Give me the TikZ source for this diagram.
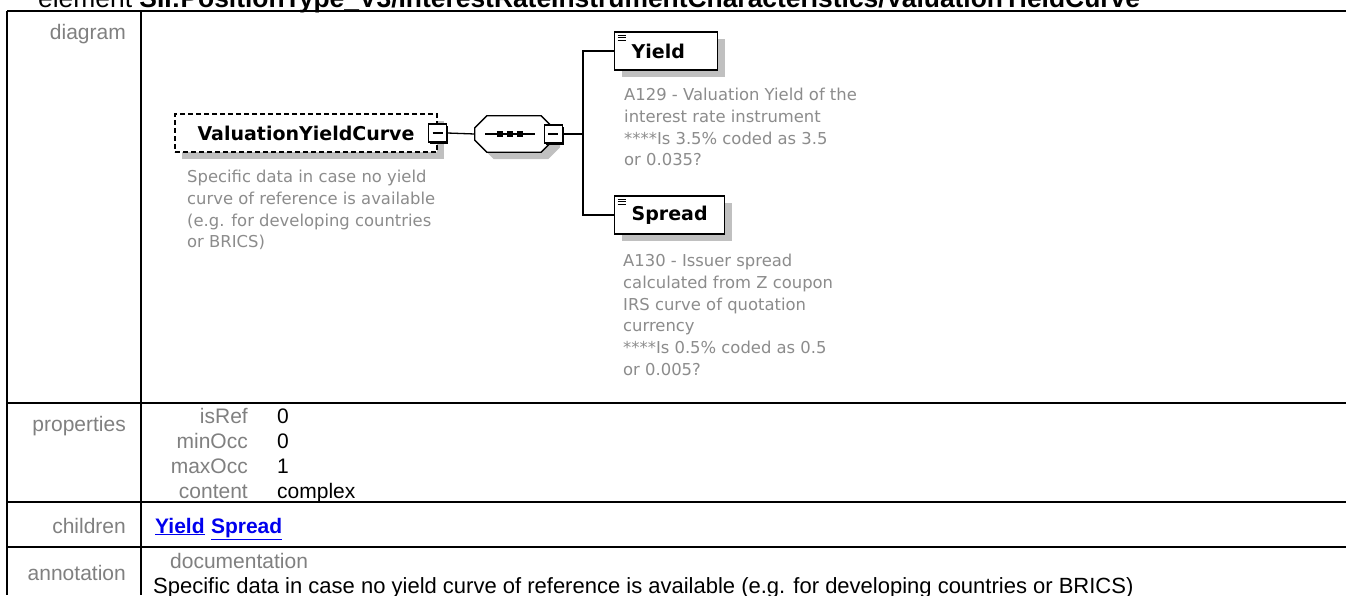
\documentclass[tikz,border=0pt]{standalone}
\usepackage{fontspec}
\setmainfont{Liberation Sans}
\newfontfamily\diagfont{DejaVu Sans}
\usetikzlibrary{positioning,shadows}
\definecolor{LabelGray}{RGB}{128,128,128}
\definecolor{NoteGray}{RGB}{140,140,140}
\definecolor{ShadeGray}{RGB}{192,192,192}
\definecolor{LinkBlue}{RGB}{0,0,238}
% octagon of a compositor node: node, x shift, y shift
\newcommand\octpath[3]{([xshift=12pt+#2,yshift=#3]#1.north west) -- ([xshift=-12pt+#2,yshift=#3]#1.north east)
  -- ([xshift=#2,yshift=-12pt+#3]#1.north east) -- ([xshift=#2,yshift=12pt+#3]#1.south east)
  -- ([xshift=-12pt+#2,yshift=#3]#1.south east) -- ([xshift=12pt+#2,yshift=#3]#1.south west)
  -- ([xshift=#2,yshift=12pt+#3]#1.south west) -- ([xshift=#2,yshift=-12pt+#3]#1.north west) -- cycle}
\tikzset{
  grid/.style={line width=2pt},
  lbl/.style={anchor=base east,inner sep=0pt,text=LabelGray,font=\fontsize{21}{25}\selectfont},
  val/.style={anchor=base west,inner sep=0pt,font=\fontsize{21}{25}\selectfont},
  link/.style={anchor=base west,inner sep=0pt,text=LinkBlue,font=\fontsize{21}{25}\selectfont\bfseries},
  elem/.style={draw=black,line width=1.3pt,fill=white,minimum height=38pt,inner xsep=17pt,
    font=\diagfont\fontsize{19}{23}\selectfont\bfseries,
    general shadow={fill=ShadeGray,shadow xshift=7pt,shadow yshift=-7pt}},
  optelem/.style={elem,dash pattern=on 5pt off 3pt},
  leaf/.style={elem,path picture={
    \foreach \d in {3,5.5,8}
      \draw[line width=0.9pt] ([xshift=3pt,yshift=-\d pt]path picture bounding box.north west) -- ++(8pt,0);}},
  note/.style={anchor=north west,inner sep=0pt,align=left,text=NoteGray,
    font=\diagfont\fontsize{16.4}{21.7}\selectfont},
  mbox/.style={draw=black,line width=1.2pt,fill=white,minimum size=18pt,inner sep=0pt,
    general shadow={fill=black,shadow xshift=1.5pt,shadow yshift=-1.5pt},
    path picture={\draw[line width=1.2pt] ([xshift=-5pt]path picture bounding box.center) -- ([xshift=5pt]path picture bounding box.center);}},
  seqbox/.style={minimum width=78pt,minimum height=36pt,inner sep=0pt},
  conn/.style={draw=black,line width=1.3pt},
}

\begin{document}
\begin{tikzpicture}[x=1pt,y=-1pt]
\useasboundingbox (0,0) rectangle (1346,595);
\fill[white] (0,0) rectangle (1346,595);
% title, cut at the top
\node[anchor=base west,inner sep=0pt,font=\fontsize{26.4}{30}\selectfont] (ttl) at (38,7)
  {element \textbf{SII:PositionType\_V3/InterestRateInstrumentCharacteristics/ValuationYieldCurve}};
% table
\foreach \y in {11,403,502,547}
  \draw[grid] (7,\y) -- (1346,\y);
\draw[grid] (7,11) -- (7,595);
\draw[grid] (141,11) -- (141,595);
\node[lbl] (ldia) at (126,39) {diagram};
\node[lbl] (lprop) at (126,431) {properties};
\node[lbl] (lchild) at (126,533) {children};
\node[lbl] (lann) at (126,580) {annotation};
\foreach \k/\v [count=\i] in {isRef/0,minOcc/0,maxOcc/1,content/complex} {
  \node[lbl] (k\i) at (248,{398+25*\i}) {\k};
  \node[val] (v\i) at (277,{398+25*\i}) {\v};
}
\node[link] (cyield) at (155,533) {\underline{Yield}};
\node[link] (cspread) at ([xshift=6pt]cyield.base east) {\underline{Spread}};
\node[lbl,anchor=base west] (ldoc) at (170,568) {documentation};
\node[val,font=\fontsize{22}{25}\selectfont] (vdoc) at (153,593) {Specific data in case no yield curve of reference is available (e.g. for developing countries or BRICS)};
% diagram
\node[optelem,minimum width=262pt] (vyc) at (306,133) {ValuationYieldCurve};
\node[mbox] (vycm) at (vyc.east) {};
\node[seqbox] (seq) at (514,134) {};
\fill[ShadeGray] \octpath{seq}{7pt}{-7pt};
\draw[conn,fill=white] \octpath{seq}{0pt}{0pt};
\draw[line width=1.2pt] ([xshift=-29pt]seq.center) -- ([xshift=21pt]seq.center);
\foreach \dx in {-14,-4,6}
  \fill ([xshift=\dx pt]seq.center) +(-3,-3) rectangle +(3,3);
\node[mbox] (seqm) at (seq.east) {};
\coordinate (fork) at (583,134);
\node[leaf,text width=69pt,anchor=west] (yield) at (614,51) {Yield};
\node[leaf,anchor=west] (spread) at (614,215) {Spread};
\draw[conn] (vycm.east) -- (seq.west);
\draw[conn] (seqm.east) -- (fork);
\draw[conn] (yield.west) -| (fork) |- (spread.west);
\node[note] (vycdoc) at (187,170) {Specific data in case no yield\\curve of reference is available\\(e.g. for developing countries\\or BRICS)};
\node[note] (yielddoc) at (624,88) {A129 - Valuation Yield of the\\interest rate instrument\\****Is 3.5\% coded as 3.5\\or 0.035?};
\node[note] (spreaddoc) at (623,254) {A130 - Issuer spread\\calculated from Z coupon\\IRS curve of quotation\\currency\\****Is 0.5\% coded as 0.5\\or 0.005?};
\end{tikzpicture}
\end{document}
